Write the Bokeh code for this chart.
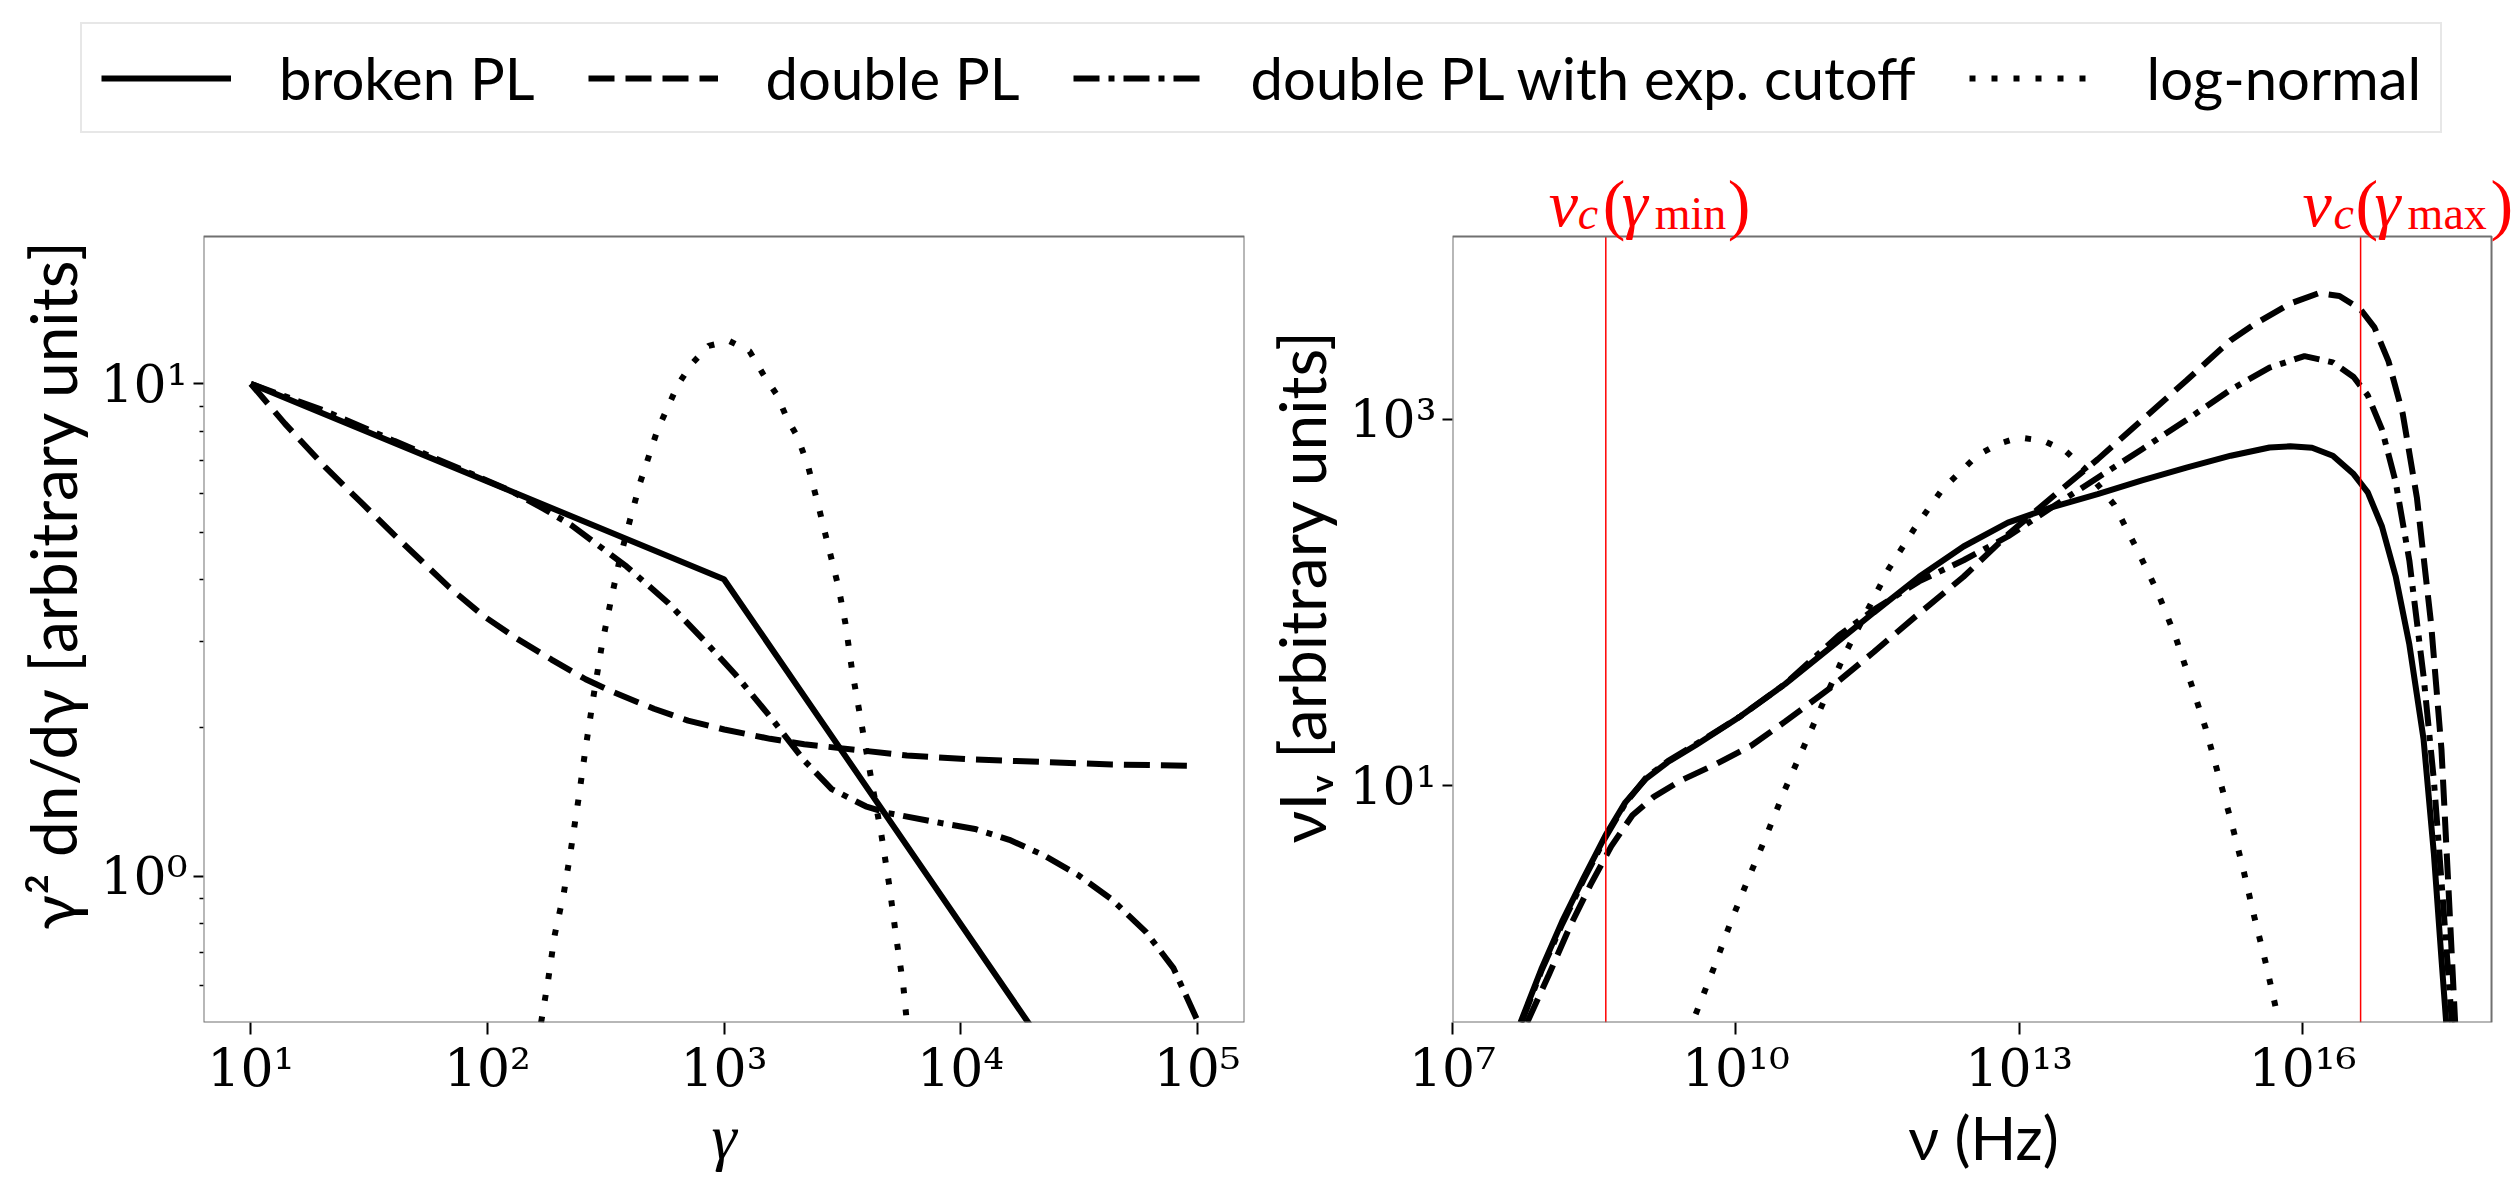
import numpy as np
from bokeh.plotting import figure
from bokeh.models import (Range1d, FixedTicker, CustomJSTickFormatter, Label, BoxAnnotation,
                          Legend, LegendItem)
from bokeh.layouts import column, row
from bokeh.embed import file_html
from bokeh.resources import INLINE

# ---------------- data (log10 values) ----------------
# left panel: gamma^2 dn/dgamma
lg_gamma_bpl = [1.0, 3.0, 4.30]
lg_y_bpl = [1.0, 0.603, -0.307]

lg_gamma_dpl = [1.0, 1.144, 1.318, 1.462, 1.606, 1.722, 1.838, 1.982, 2.126, 2.271, 2.415,
                2.531, 2.704, 2.848, 3.001, 3.195, 3.339, 3.570, 3.773, 4.061, 4.350, 4.639, 5.0]
lg_y_dpl = [1.0, 0.919, 0.829, 0.761, 0.693, 0.640, 0.587, 0.529, 0.482, 0.440, 0.400,
            0.374, 0.340, 0.316, 0.298, 0.279, 0.268, 0.256, 0.245, 0.237, 0.232, 0.227, 0.224]

lg_gamma_dpc = [1.0, 1.318, 1.606, 1.895, 2.097, 2.242, 2.357, 2.588, 2.762, 2.935, 3.051,
                3.195, 3.339, 3.455, 3.599, 3.686, 3.917, 4.061, 4.206, 4.350, 4.495, 4.639,
                4.783, 4.899, 5.0]
lg_y_dpc = [1.0, 0.944, 0.884, 0.825, 0.783, 0.745, 0.712, 0.629, 0.556, 0.469, 0.408,
            0.324, 0.235, 0.177, 0.142, 0.129, 0.108, 0.096, 0.074, 0.043, 0.003, -0.047,
            -0.113, -0.186, -0.292]

lg_gamma_ln = [2.227, 2.256, 2.285, 2.323, 2.352, 2.386, 2.415, 2.450, 2.484, 2.522, 2.560,
               2.603, 2.646, 2.718, 2.805, 2.863, 2.935, 3.022, 3.108, 3.166, 3.224, 3.267,
               3.310, 3.354, 3.397, 3.440, 3.484, 3.513, 3.541, 3.570, 3.599, 3.628, 3.666,
               3.700, 3.729, 3.758, 3.773]
lg_y_ln = [-0.297, -0.213, -0.118, -0.034, 0.051, 0.160, 0.260, 0.370, 0.470, 0.560, 0.645,
           0.724, 0.800, 0.905, 0.998, 1.040, 1.077, 1.087, 1.066, 1.019, 0.977, 0.929,
           0.893, 0.835, 0.756, 0.672, 0.587, 0.514, 0.419, 0.340, 0.261, 0.182, 0.082,
           -0.023, -0.128, -0.223, -0.297]

# right panel: nu I_nu
lg_nu_bpl = [7.72, 7.94, 8.16, 8.39, 8.62, 8.83, 9.05, 9.28, 9.57, 10.05, 10.52, 10.99, 11.46,
             11.94, 12.41, 12.88, 13.35, 13.83, 14.30, 14.77, 15.24, 15.65, 15.87, 16.10,
             16.32, 16.54, 16.69, 16.84, 16.985, 17.13, 17.28, 17.39, 17.47, 17.52]
lg_I_bpl = [-0.29, 0.0, 0.26, 0.50, 0.73, 0.91, 1.04, 1.13, 1.22, 1.38, 1.555, 1.75, 1.945,
            2.14, 2.305, 2.435, 2.52, 2.59, 2.665, 2.735, 2.80, 2.845, 2.851, 2.843,
            2.80, 2.70, 2.60, 2.414, 2.143, 1.771, 1.257, 0.629, 0.057, -0.29]

lg_nu_dpl = [7.79, 8.02, 8.24, 8.46, 8.68, 8.905, 9.13, 9.42, 9.795, 10.165, 10.52, 10.99,
             11.46, 11.94, 12.41, 12.88, 13.35, 13.83, 14.30, 14.77, 15.24, 15.50, 15.87,
             16.17, 16.39, 16.61, 16.76, 16.91, 17.06, 17.21, 17.36, 17.47, 17.54, 17.615]
lg_I_dpl = [-0.29, -0.03, 0.23, 0.46, 0.67, 0.84, 0.94, 1.03, 1.12, 1.22, 1.35, 1.53,
            1.73, 1.94, 2.14, 2.37, 2.575, 2.78, 2.995, 3.21, 3.43, 3.52, 3.63,
            3.686, 3.671, 3.60, 3.50, 3.314, 3.029, 2.571, 1.886, 1.20, 0.486, -0.29]

lg_nu_dpc = [7.73, 7.94, 8.16, 8.39, 8.62, 8.83, 9.05, 9.28, 9.57, 10.05, 10.52, 11.09, 11.46,
             11.94, 12.41, 12.88, 13.35, 13.83, 14.30, 14.77, 15.24, 15.65, 16.02, 16.32,
             16.54, 16.69, 16.84, 16.985, 17.13, 17.28, 17.39, 17.49, 17.58]
lg_I_dpc = [-0.29, -0.01, 0.245, 0.49, 0.72, 0.905, 1.045, 1.135, 1.225, 1.38, 1.555, 1.82,
            1.96, 2.115, 2.23, 2.36, 2.52, 2.68, 2.835, 2.995, 3.16, 3.28, 3.343, 3.309,
            3.229, 3.129, 2.943, 2.657, 2.229, 1.60, 1.029, 0.343, -0.29]

lg_nu_ln = [9.575, 9.764, 9.943, 10.132, 10.331, 10.52, 10.732, 10.935, 11.143, 11.379,
            11.615, 11.889, 12.182, 12.551, 12.778, 13.0, 13.259, 13.496, 13.685, 14.006,
            14.242, 14.464, 14.653, 14.818, 14.974, 15.111, 15.243, 15.371, 15.489, 15.612,
            15.725]
lg_I_ln = [-0.244, 0.004, 0.254, 0.494, 0.739, 0.981, 1.228, 1.466, 1.708, 1.943,
           2.18, 2.402, 2.614, 2.80, 2.864, 2.899, 2.881, 2.823, 2.733, 2.532,
           2.295, 2.057, 1.815, 1.56, 1.313, 1.055, 0.808, 0.547, 0.285, 0.03,
           -0.231]

lg_nu_c_min = 8.623
lg_nu_c_max = 16.614

series_labels = ["broken PL", "double PL", "double PL with exp. cutoff", "log-normal"]
gamma_ticks = [1e1, 1e2, 1e3, 1e4, 1e5]
left_y_ticks = [1.0, 10.0]
left_y_minor = [0.5, 0.6, 0.7, 0.8, 0.9, 2, 3, 4, 5, 6, 7, 8, 9]
nu_ticks = [1e7, 1e10, 1e13, 1e16]
right_y_ticks = [1e1, 1e3]

# axis limits (log10)
left_xlim = (0.8, 5.2)
left_ylim = (-0.297, 1.299)
right_xlim = (7.0, 18.0)
right_ylim = (-0.29, 3.995)

# ---------------- geometry / styles ----------------
FRAME_H = 786      # px height of the axes boxes
TOP_PAD = 86       # px between top of the panels and the axes boxes
RIGHT_FRAME_W = 1040
RIGHT_PAD = 23
LW = 6
STYLES = [dict(line_dash="solid"), dict(line_dash="26 11"),
          dict(line_dash="26 9 6 9"), dict(line_dash="6 16")]
SANS = "Lato"
SERIF = "DejaVu Serif"
LBL_SERIF = "Liberation Serif"
FRAME = "#707070"


def pw(a):
    return (10.0 ** np.asarray(a, dtype=float)).tolist()


def sup_formatter():
    return CustomJSTickFormatter(code="""
const s = {"0":"\u2070","1":"\u00b9","2":"\u00b2","3":"\u00b3","4":"\u2074","5":"\u2075",
           "6":"\u2076","7":"\u2077","8":"\u2078","9":"\u2079","-":"\u207b"};
const e = Math.round(Math.log10(tick));
return "10" + String(e).split("").map(c => s[c]).join("");
""")


def style(p):
    p.xgrid.visible = False
    p.ygrid.visible = False
    p.outline_line_color = None
    p.background_fill_color = "white"
    p.border_fill_color = "white"
    for ax in p.axis:
        ax.axis_line_color = None
        ax.major_tick_line_color = "black"
        ax.major_tick_line_width = 2
        ax.major_tick_in = 0
        ax.minor_tick_in = 0
        ax.minor_tick_out = 4
        ax.minor_tick_line_color = "black"
        ax.minor_tick_line_width = 1.5
        ax.major_label_text_font = SERIF
        ax.major_label_text_font_size = "52px"
        ax.major_label_text_color = "black"
        ax.axis_label_text_font = SANS
        ax.axis_label_text_font_size = "64px"
        ax.axis_label_text_font_style = "normal"
        ax.axis_label_text_color = "black"
        ax.formatter = sup_formatter()
    p.xaxis.major_tick_out = 12
    p.yaxis.major_tick_out = 10
    p.xaxis.major_label_standoff = 3
    p.yaxis.major_label_standoff = 6
    p.xaxis.axis_label_standoff = 0
    p.yaxis.axis_label_standoff = 6
    p.xaxis.axis_label_text_font_size = "60px"


def ext(lim, pad_px, frame_px):
    return lim[1] + pad_px * (lim[1] - lim[0]) / frame_px


def box(p, xlim, ylim):
    xl, yl = pw(xlim), pw(ylim)
    p.add_layout(BoxAnnotation(left=xl[0], right=xl[1], bottom=yl[0], top=yl[1],
                               fill_alpha=0, line_color=FRAME, line_width=2, line_alpha=1))


# ---------------- left panel ----------------
left = figure(width=1260, height=1030, x_axis_type="log", y_axis_type="log",
              x_range=Range1d(*pw(left_xlim)),
              y_range=Range1d(*pw((left_ylim[0], ext(left_ylim, TOP_PAD, FRAME_H)))),
              min_border_left=203, min_border_right=16, min_border_top=0, min_border_bottom=158,
              output_backend="svg", toolbar_location=None)
style(left)
box(left, left_xlim, left_ylim)
left.xaxis.ticker = FixedTicker(ticks=gamma_ticks, minor_ticks=[])
left.yaxis.ticker = FixedTicker(ticks=left_y_ticks, minor_ticks=left_y_minor)
left.xaxis.axis_label = "γ"
left.xaxis.axis_label_text_font = LBL_SERIF
left.xaxis.axis_label_text_font_style = "italic"
left.xaxis.axis_label_text_font_size = "64px"
left.yaxis.axis_label = "γ² dn/dγ [arbitrary units]"

for gx, gy, st in zip([lg_gamma_bpl, lg_gamma_dpl, lg_gamma_dpc, lg_gamma_ln],
                      [lg_y_bpl, lg_y_dpl, lg_y_dpc, lg_y_ln], STYLES):
    left.line(pw(gx), pw(gy), line_color="black", line_width=LW, **st)

# ---------------- right panel ----------------
# plotting area extended up/right so the red labels outside the box are not clipped
right = figure(width=1254, height=1030, x_axis_type="log", y_axis_type="log",
               x_range=Range1d(*pw((right_xlim[0], ext(right_xlim, RIGHT_PAD, RIGHT_FRAME_W)))),
               y_range=Range1d(*pw((right_ylim[0], ext(right_ylim, TOP_PAD, FRAME_H)))),
               min_border_left=191, min_border_right=0, min_border_top=0, min_border_bottom=158,
               output_backend="svg", toolbar_location=None)
style(right)
box(right, right_xlim, right_ylim)
right.xaxis.ticker = FixedTicker(ticks=nu_ticks, minor_ticks=[])
right.yaxis.ticker = FixedTicker(ticks=right_y_ticks, minor_ticks=[])
right.xaxis.axis_label = "ν (Hz)"
right.yaxis.axis_label = "νIᵥ [arbitrary units]"

for nx, ny, st in zip([lg_nu_bpl, lg_nu_dpl, lg_nu_dpc, lg_nu_ln],
                      [lg_I_bpl, lg_I_dpl, lg_I_dpc, lg_I_ln], STYLES):
    right.line(pw(nx), pw(ny), line_color="black", line_width=LW, **st)

yl = pw(right_ylim)
nu_c = pw([lg_nu_c_min, lg_nu_c_max])
right.segment(x0=nu_c, y0=[yl[0]] * 2, x1=nu_c, y1=[yl[1]] * 2,
              line_color="red", line_width=1.5)


def nu_label(p, x, sub, offs):
    pieces = [("ν", "italic", "66px", offs[0], 33), ("c", "italic", "46px", offs[1], 23),
              ("(", "normal", "68px", offs[2], 33), ("γ", "italic", "66px", offs[3], 33),
              (sub, "normal", "46px", offs[4], 23), (")", "normal", "68px", offs[5], 33)]
    for txt, fs, size, dx, dy in pieces:
        p.add_layout(Label(x=x, y=yl[1], x_offset=dx, y_offset=dy, text=txt,
                           text_color="red", text_font=LBL_SERIF, text_font_style=fs,
                           text_font_size=size, text_baseline="alphabetic", text_align="left"))


nu_label(right, nu_c[0], "min", [-57, -28, -3, 16, 49, 122])
nu_label(right, nu_c[1], "max", [-58, -27, -5, 14, 47, 130])

# ---------------- legend strip ----------------
leg = figure(width=2514, height=150, x_axis_type=None, y_axis_type=None,
             x_range=Range1d(0, 1), y_range=Range1d(0, 1), min_border=0,
             output_backend="svg", toolbar_location=None)
leg.outline_line_color = None
leg.xgrid.visible = False
leg.ygrid.visible = False
items = []
for lab, st in zip(series_labels, STYLES):
    # sample lines sit outside the visible range; only their legend glyphs show
    r = leg.line(x=[5, 6], y=[5, 6], line_color="black", line_width=LW, **st)
    items.append(LegendItem(label=lab, renderers=[r]))
legend = Legend(items=items, orientation="horizontal", location=(80, 17),
                label_text_font=SANS, label_text_font_size="58px", label_text_color="black",
                glyph_width=130, glyph_height=40, label_standoff=48, spacing=53,
                padding=19, margin=0, border_line_color="#d0d0d0", border_line_width=2,
                background_fill_color="white", background_fill_alpha=1.0)
leg.add_layout(legend, "center")

layout = column(leg, row(left, right))
open("out.html", "w").write(file_html(layout, INLINE))
